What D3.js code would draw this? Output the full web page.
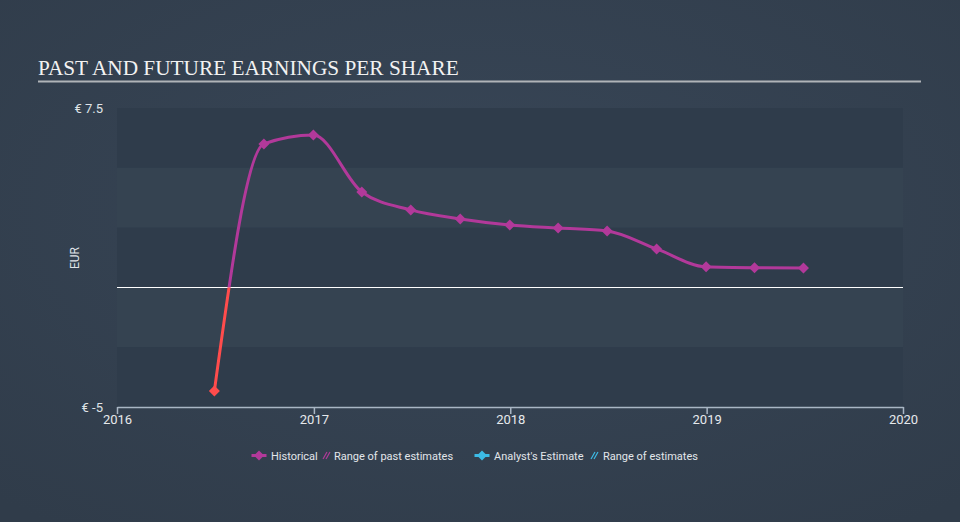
<!DOCTYPE html>
<html><head><meta charset="utf-8">
<script src="https://cdn.jsdelivr.net/npm/d3@7"></script>
<style>
html,body{margin:0;padding:0;background:#344150;}
svg{display:block;}
</style></head>
<body>
<svg id="chart" width="960" height="522"></svg>
<script>
const dates = ["2016-06-30","2016-09-30","2016-12-31","2017-03-31","2017-06-30","2017-09-30","2017-12-31","2018-03-31","2018-06-30","2018-09-30","2018-12-31","2019-03-31","2019-06-30"];
const eps = [-4.33, 6.0, 6.37, 3.99, 3.24, 2.86, 2.61, 2.48, 2.36, 1.61, 0.86, 0.82, 0.81];
const xTickYears = [2016, 2017, 2018, 2019, 2020];
const yTicks = [-5, 7.5];
const bandEdges = [7.5, 5, 2.5, 0, -2.5, -5];
const legendItems = ["Historical", "Range of past estimates", "Analyst's Estimate", "Range of estimates"];

const parse = d3.timeParse("%Y-%m-%d");
const data = dates.map((d,i)=>({date: parse(d), v: eps[i]}));

const svg = d3.select("#chart");
const defs = svg.append("defs");
const bg = defs.append("radialGradient").attr("id","bg").attr("cx","50%").attr("cy","40%").attr("r","75%");
bg.append("stop").attr("offset","0%").attr("stop-color","#384657");
bg.append("stop").attr("offset","100%").attr("stop-color","#303c4a");
svg.append("rect").attr("width",960).attr("height",522).attr("fill","url(#bg)");

const x = d3.scaleTime().domain([new Date(2016,0,1), new Date(2020,0,1)]).range([117, 903]);
const y = d3.scaleLinear().domain([-5, 7.5]).range([407, 108]);

// bands
for (let i=0;i<bandEdges.length-1;i++){
  svg.append("rect")
    .attr("x", 117).attr("width", 786)
    .attr("y", y(bandEdges[i])).attr("height", y(bandEdges[i+1]) - y(bandEdges[i]))
    .attr("fill", i%2===0 ? "#2f3c4b" : "#354351");
}

// title
svg.append("text").attr("x",38).attr("y",75)
  .attr("font-family","Liberation Serif, serif").attr("font-size",21.3).attr("fill","#f2f2f2")
  .text("PAST AND FUTURE EARNINGS PER SHARE");
svg.append("line").attr("x1",38).attr("x2",921).attr("y1",81.5).attr("y2",81.5)
  .attr("stroke","#b0b4b8").attr("stroke-width",2);

// zero line
svg.append("line").attr("x1",117).attr("x2",903).attr("y1",Math.round(y(0))+0.5).attr("y2",Math.round(y(0))+0.5)
  .attr("stroke","#ffffff").attr("stroke-width",1);

// x axis
const xAxis = d3.axisBottom(x)
  .tickValues(xTickYears.map(yr=>new Date(yr,0,1)))
  .tickFormat(d3.timeFormat("%Y")).tickSize(7).tickSizeOuter(0);
const gx = svg.append("g").attr("transform","translate(0,407)").call(xAxis);
gx.select(".domain").attr("stroke","#a9b6c4").attr("stroke-width",1.5);
gx.selectAll(".tick line").attr("stroke","#a9b6c4").attr("stroke-width",1.5);
gx.selectAll(".tick text").attr("fill","#e6e9ec").attr("font-family","Roboto, sans-serif").attr("font-size",13).attr("dy","0.55em");

// y axis labels
const yAxis = d3.axisLeft(y).tickValues(yTicks).tickFormat(d=>"€ " + d).tickSize(0);
const gy = svg.append("g").attr("transform","translate(103,0)").call(yAxis);
gy.select(".domain").remove();
gy.selectAll(".tick text").attr("fill","#dfe3e7").attr("font-family","Roboto, sans-serif").attr("font-size",13).attr("x",0);

svg.append("text").attr("transform","translate(79,258) rotate(-90)")
  .attr("text-anchor","middle").attr("fill","#dfe3e7")
  .attr("font-family","Roboto, sans-serif").attr("font-size",12).text("EUR");

// line, coloured by sign
const line = d3.line().x(d=>x(d.date)).y(d=>y(d.v)).curve(d3.curveMonotoneX);
defs.append("clipPath").attr("id","pos").append("rect").attr("x",0).attr("y",0).attr("width",960).attr("height",y(0));
defs.append("clipPath").attr("id","neg").append("rect").attr("x",0).attr("y",y(0)).attr("width",960).attr("height",522-y(0));
svg.append("path").datum(data).attr("d",line).attr("fill","none")
  .attr("stroke","#b2399a").attr("stroke-width",3).attr("clip-path","url(#pos)");
svg.append("path").datum(data).attr("d",line).attr("fill","none")
  .attr("stroke","#ff4c4c").attr("stroke-width",3).attr("clip-path","url(#neg)");

const dPath = (r)=>`M0,${-r}L${r},0L0,${r}L${-r},0Z`;
svg.selectAll(".pt").data(data).enter().append("path")
  .attr("d",dPath(5.5))
  .attr("transform",d=>`translate(${x(d.date)},${y(d.v)})`)
  .attr("fill",d=>d.v<0 ? "#ff4c4c" : "#b2399a");

// legend
const lg = svg.append("g").attr("font-family","Roboto, sans-serif").attr("font-size",11).attr("fill","#e2e6ea");
function legendMarker(cx, color){
  lg.append("line").attr("x1",cx-7.5).attr("x2",cx+7.5).attr("y1",455.5).attr("y2",455.5).attr("stroke",color).attr("stroke-width",3);
  lg.append("path").attr("d",dPath(5)).attr("transform",`translate(${cx},455.5)`).attr("fill",color);
}
function hatch(x0, color){
  for (let k=0;k<2;k++){
    lg.append("line").attr("x1",x0+k*3).attr("y1",459).attr("x2",x0+k*3+4).attr("y2",452).attr("stroke",color).attr("stroke-width",1.2);
  }
}
legendMarker(259, "#b2399a");
lg.append("text").attr("x",271).attr("y",459.5).text(legendItems[0]);
hatch(323, "#b2399a");
lg.append("text").attr("x",334).attr("y",459.5).text(legendItems[1]);
legendMarker(482, "#3cbbe6");
lg.append("text").attr("x",494).attr("y",459.5).text(legendItems[2]);
hatch(591, "#3cbbe6");
lg.append("text").attr("x",603).attr("y",459.5).text(legendItems[3]);
</script>
</body></html>
